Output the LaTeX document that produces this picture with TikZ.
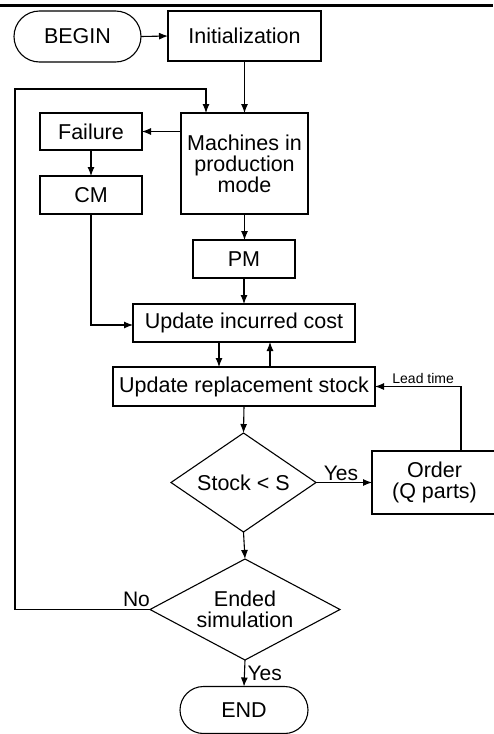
\documentclass[tikz,border=0pt]{standalone}
\usepackage{fontspec}
\setmainfont{Liberation Sans}
\usetikzlibrary{arrows.meta,shapes.misc}
\begin{document}
\begin{tikzpicture}[x=1pt,y=-1pt,
  every node/.style={font=\fontsize{21.5}{21}\selectfont, inner sep=0pt, outer sep=0pt},
  box/.style={draw, line width=1.1pt, rectangle},
  term/.style={draw, line width=1.1pt, rounded rectangle},
  arr/.style={line width=1.1pt, -{Latex[length=9pt,width=7pt]}},
  lbl/.style={font=\fontsize{21}{21}\selectfont},
  small/.style={font=\fontsize{14}{14}\selectfont}]
\useasboundingbox (0,0) rectangle (493,734);
\draw[line width=2.8pt] (0,5.5) -- (493,5.5);
\node[term, minimum width=127pt, minimum height=51pt] (begin) at (77.5,36.5) {BEGIN};
\node[box, minimum width=153pt, minimum height=50pt] (init) at (244.5,36) {Initialization};
\node[box, minimum width=127pt, minimum height=101pt, align=center] (mach) at (244.5,163.5) {Machines in\\production\\mode};
\node[box, minimum width=102pt, minimum height=37pt] (fail) at (91,131.5) {Failure};
\node[box, minimum width=102pt, minimum height=38pt] (cm) at (91,195) {CM};
\node[box, minimum width=102pt, minimum height=38pt] (pm) at (244,259) {PM};
\node[box, minimum width=222pt, minimum height=38pt] (uic) at (244,323) {Update incurred cost};
\node[box, minimum width=262pt, minimum height=39pt] (urs) at (244,386.5) {Update replacement stock};
\node[minimum width=145pt, minimum height=99pt] (stock) at (243.5,482.5) {Stock < S};
\draw[line width=1.1pt] (stock.north) -- (stock.east) -- (stock.south) -- (stock.west) -- cycle;
\node[box, minimum width=125pt, minimum height=63pt, align=center] (order) at (434.5,482.5) {Order\\(Q parts)};
\node[minimum width=190pt, minimum height=101pt, align=center] (ended) at (245,609.5) {Ended\\simulation};
\draw[line width=1.1pt] (ended.north) -- (ended.east) -- (ended.south) -- (ended.west) -- cycle;
\node[term, minimum width=128pt, minimum height=47pt] (end) at (244,710) {END};
\coordinate (loopc) at (15,89);

\draw[arr] (begin.east) -- (init.west);
\draw[arr] (init.south) -- (mach.north);
\draw[arr] (mach.west |- fail.east) -- (fail.east);
\draw[arr] (fail.south) -- (cm.south |- cm.north);
\draw[arr] (cm.south) |- ([yshift=-2pt]uic.west);
\draw[arr] (mach.south) -- (mach.south |- pm.north);
\draw[arr] (pm.south) -- (uic.north);
\draw[arr] ([xshift=-25pt]uic.south) -- ([xshift=-25pt]uic.south |- urs.north);
\draw[arr] ([xshift=26pt]uic.south |- urs.north) -- ([xshift=26pt]uic.south);
\draw[arr] (urs.south) -- (stock.north);
\draw[arr] (stock.east) -- node[lbl, above, yshift=2pt, xshift=-3pt] {Yes} (stock.east -| order.west);
\draw[arr] ([xshift=26.5pt]order.north) |- node[small, pos=0.72, above, yshift=3pt] {Lead time} (urs.east);
\draw[arr] (stock.south) -- (ended.north);
\draw[arr] (ended.west) -- node[lbl, pos=0.1, above, yshift=3pt] {No} (ended.west -| loopc) -- (loopc) -| ([xshift=-38.5pt]mach.north);
\draw[arr] (ended.south) -- node[lbl, right, xshift=3pt] {Yes} (end.north);
\end{tikzpicture}
\end{document}
